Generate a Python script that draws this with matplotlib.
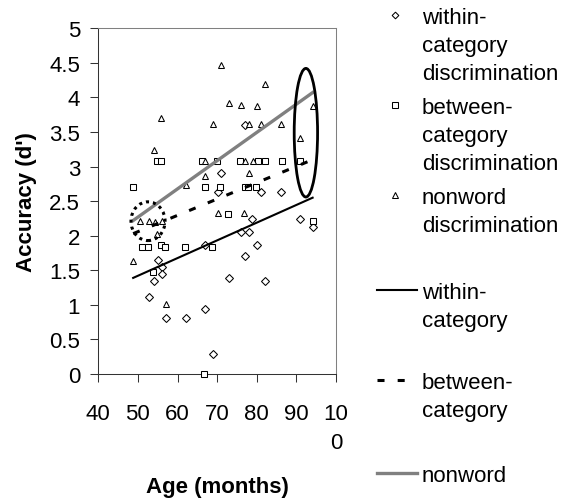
import matplotlib
matplotlib.use('Agg')
import matplotlib.pyplot as plt
from matplotlib.patches import Ellipse
from matplotlib.lines import Line2D

plt.rcParams['font.family'] = ['Liberation Sans', 'DejaVu Sans']
plt.rcParams['font.size'] = 16

# within-category discrimination (age in months, d')
within_age = [77.0, 71.0, 70.2, 81.1, 86.1, 90.9, 94.1, 78.9, 76.0, 78.1, 80.0, 66.9,
              77.0, 55.0, 56.0, 56.0, 54.1, 73.1, 82.2, 52.9, 57.1, 62.1, 66.9, 69.0]
within_d = [3.60, 2.90, 2.63, 2.63, 2.63, 2.24, 2.12, 2.24, 2.05, 2.05, 1.87, 1.87,
            1.70, 1.65, 1.55, 1.45, 1.35, 1.39, 1.35, 1.12, 0.81, 0.81, 0.94, 0.29]

# between-category discrimination
between_age = [48.8, 54.7, 55.8, 66.1, 69.9, 75.8, 80.4, 82.1, 86.3, 90.9,
               66.9, 70.7, 77.0, 77.9, 79.7, 72.8, 94.1,
               51.0, 52.6, 55.8, 56.8, 61.9, 68.8, 53.9, 66.8]
between_d = [2.71, 3.08, 3.08, 3.08, 3.08, 3.08, 3.08, 3.08, 3.08, 3.08,
             2.71, 2.71, 2.71, 2.71, 2.71, 2.31, 2.22,
             1.84, 1.84, 1.86, 1.84, 1.84, 1.84, 1.47, 0.0]

# nonword discrimination
nonword_age = [71.0, 82.2, 73.1, 76.0, 80.0, 94.1, 55.8, 69.0, 78.1, 81.1, 86.1,
               90.9, 54.1, 66.9, 77.0, 79.0, 66.9, 78.1, 62.1, 70.3, 76.9,
               50.5, 52.9, 54.3, 56.0, 54.7, 48.8, 57.1]
nonword_d = [4.47, 4.20, 3.92, 3.89, 3.87, 3.87, 3.70, 3.61, 3.61, 3.61, 3.61,
             3.41, 3.24, 3.08, 3.08, 3.08, 2.87, 2.90, 2.73, 2.33, 2.33,
             2.21, 2.21, 2.20, 2.21, 2.03, 1.63, 1.01]

# linear trend lines
fit_age = [48.8, 94.1]
within_fit = [1.39, 2.55]
between_fit = [2.03, 3.10]
nonword_fit = [2.22, 4.07]

# highlighted groups (centre age, centre d', width, height)
oldest_group = (92.4, 3.49, 5.9, 1.86)
youngest_group = (52.55, 2.21, 8.6, 0.56)

x_ticks = [40, 50, 60, 70, 80, 90, 100]
x_ticklabels = ['40', '50', '60', '70', '80', '90', '10\n0']
y_ticks = [0, 0.5, 1, 1.5, 2, 2.5, 3, 3.5, 4, 4.5, 5]
y_ticklabels = ['0', '0.5', '1', '1.5', '2', '2.5', '3', '3.5', '4', '4.5', '5']

W, H = 561, 502
fig = plt.figure(figsize=(W / 100, H / 100), dpi=100)
ax = fig.add_axes([98.3 / W, 1 - 375 / H, (336 - 98.3) / W, (375 - 29.3) / H])

mk = dict(linestyle='none', markerfacecolor='white', markeredgecolor='black',
          markeredgewidth=0.75, clip_on=False, zorder=3)
ax.plot(within_age, within_d, marker='D', markersize=3.8, **mk)
ax.plot(between_age, between_d, marker='s', markersize=4.3, **mk)
ax.plot(nonword_age, nonword_d, marker='^', markersize=5, **mk)

ax.plot(fit_age, within_fit, color='black', lw=1.5, zorder=4)
ax.plot(fit_age, between_fit, color='black', lw=2.2, linestyle=(0, (2.3, 4.3)), zorder=4)
ax.plot(fit_age, nonword_fit, color='#808080', lw=2.4, zorder=4)

cx, cy, w, h = oldest_group
ax.add_patch(Ellipse((cx, cy), w, h, fill=False, edgecolor='black', lw=2, zorder=5))
cx, cy, w, h = youngest_group
ax.add_patch(Ellipse((cx, cy), w, h, fill=False, edgecolor='black', lw=2.2,
                     linestyle=(0, (1, 1.3)), zorder=5))

ax.set_xlim(40, 100)
ax.set_ylim(0, 5)
ax.set_xticks(x_ticks)
ax.set_xticklabels(x_ticklabels, linespacing=1.5)
ax.set_yticks(y_ticks)
ax.set_yticklabels(y_ticklabels)
ax.tick_params(axis='both', direction='out', length=5.5, width=0.75, color='#333333')
ax.tick_params(axis='x', pad=15.5)
ax.tick_params(axis='y', pad=7.5)

for s in ['left', 'bottom']:
    ax.spines[s].set_color('#333333')
    ax.spines[s].set_linewidth(0.75)
for s in ['top', 'right']:
    ax.spines[s].set_color('#808080')
    ax.spines[s].set_linewidth(0.75)

ax.set_xlabel('Age (months)', fontweight='bold')
ax.xaxis.set_label_coords(0.501, -0.324)
ax.xaxis.label.set_verticalalignment('center')
ax.set_ylabel("Accuracy (d')", fontweight='bold')
ax.yaxis.set_label_coords(-0.304, 0.5)
ax.yaxis.label.set_verticalalignment('center')


# legend drawn by hand, positions in pixels
def fx(px):
    return px / W


def fy(py):
    return 1 - py / H


legend_rows = [
    ('D', 3.4, None, ['within-', 'category', 'discrimination'], 15.7),
    ('s', 3.9, None, ['between-', 'category', 'discrimination'], 106),
    ('^', 4.5, None, ['nonword', 'discrimination'], 196),
    (None, 0, dict(color='black', lw=1.5), ['within-', 'category'], 291),
    (None, 0, dict(color='black', lw=2.2, linestyle=(0, (2.3, 4.3))), ['between-', 'category'], 381),
    (None, 0, dict(color='#808080', lw=2.4), ['nonword'], 474),
]
for marker, ms, style, lines, y0 in legend_rows:
    if marker:
        fig.add_artist(Line2D([fx(395)], [fy(y0)], marker=marker, markersize=ms,
                              markerfacecolor='white', markeredgecolor='black',
                              markeredgewidth=0.75, transform=fig.transFigure))
    else:
        fig.add_artist(Line2D([fx(376.7), fx(416.7)], [fy(y0), fy(y0)],
                              transform=fig.transFigure, **style))
    for i, line in enumerate(lines):
        fig.text(fx(422), fy(y0 + 8 + 28 * i), line, ha='left', va='baseline')

fig.savefig('out.png', dpi=100)
